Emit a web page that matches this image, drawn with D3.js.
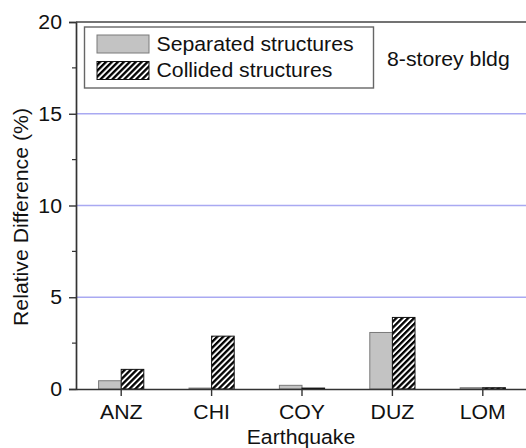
<!DOCTYPE html>
<html><head><meta charset="utf-8">
<script src="https://cdn.jsdelivr.net/npm/d3@7"></script>
<style>
html,body{margin:0;padding:0;background:#fff;}
svg{display:block;font-family:"Liberation Sans",Arial,sans-serif;}
</style>
</head><body>
<svg id="c" width="526" height="448"></svg>
<script>
const categories = ["ANZ", "CHI", "COY", "DUZ", "LOM"];
const separated = [0.45, 0.05, 0.2, 3.08, 0.07];
const collided = [1.07, 2.88, 0.05, 3.9, 0.07];
const yTicks = [0, 5, 10, 15, 20];
const gridValues = [5, 10, 15];
const legendLabels = ["Separated structures", "Collided structures"];
const noteText = "8-storey bldg";

const FS = 19.5, SX = 1.09, TXT = "#111";
const svg = d3.select("#c");
const L = 76, R = 528, T = 22, B = 389;
const x = d3.scaleBand().domain(categories).range([L, R]).padding(0);
const y = d3.scaleLinear().domain([0, 20]).range([B, T]);

const defs = svg.append("defs");
const P = 4.2;
const pat = defs.append("pattern").attr("id", "hatch").attr("patternUnits", "userSpaceOnUse")
  .attr("width", P).attr("height", P).attr("patternTransform", "rotate(45)");
pat.append("rect").attr("width", P).attr("height", P).attr("fill", "#fff");
pat.append("rect").attr("x", 0).attr("y", 0).attr("width", 2.3).attr("height", P).attr("fill", "#000");

function label(g, tx, ty, txt, anchor, rot) {
  return g.append("text")
    .attr("transform", `translate(${tx},${ty})` + (rot ? ` rotate(${rot})` : "") + ` scale(${SX},1)`)
    .attr("text-anchor", anchor || "start").attr("font-size", FS).attr("fill", TXT).text(txt);
}

// gridlines
svg.append("g").selectAll("line").data(gridValues).join("line")
  .attr("x1", L).attr("x2", R).attr("y1", d => y(d)).attr("y2", d => y(d))
  .attr("stroke", "#a9a9f2").attr("stroke-width", 1.3);

// bars
const bw = x.bandwidth() / 4;
svg.append("g").selectAll("rect").data(categories).join("rect")
  .attr("x", d => x(d) + x.bandwidth() / 2 - bw)
  .attr("y", (d, i) => y(separated[i]))
  .attr("width", bw)
  .attr("height", (d, i) => y(0) - y(separated[i]))
  .attr("fill", "#c3c3c3").attr("stroke", "#7a7a7a").attr("stroke-width", 1);
svg.append("g").selectAll("rect").data(categories).join("rect")
  .attr("x", d => x(d) + x.bandwidth() / 2)
  .attr("y", (d, i) => y(collided[i]))
  .attr("width", bw)
  .attr("height", (d, i) => y(0) - y(collided[i]))
  .attr("fill", "url(#hatch)").attr("stroke", "#111").attr("stroke-width", 1);

// y axis
const yAxis = svg.append("g").attr("transform", `translate(${L},0)`)
  .call(d3.axisLeft(y).tickValues(yTicks).tickSize(7).tickFormat(""));
yAxis.select(".domain").attr("stroke", "#333").attr("stroke-width", 1.7);
yAxis.selectAll(".tick line").attr("stroke", "#333").attr("stroke-width", 1.4);
yTicks.forEach(v => label(svg, 62, y(v) + 7, String(v), "end"));
// minor ticks
svg.append("g").selectAll("line").data([2.5, 7.5, 12.5, 17.5]).join("line")
  .attr("x1", L - 4).attr("x2", L).attr("y1", d => y(d)).attr("y2", d => y(d))
  .attr("stroke", "#333").attr("stroke-width", 1.2);

// x axis
const xAxis = svg.append("g").attr("transform", `translate(0,${B})`)
  .call(d3.axisBottom(x).tickSize(7).tickSizeOuter(0).tickFormat(""));
xAxis.select(".domain").attr("stroke", "#333").attr("stroke-width", 1.7);
xAxis.selectAll(".tick line").attr("stroke", "#333").attr("stroke-width", 1.4);
categories.forEach(c => label(svg, x(c) + x.bandwidth() / 2, 418.5, c, "middle"));

// top frame
svg.append("line").attr("x1", L).attr("x2", R).attr("y1", T).attr("y2", T)
  .attr("stroke", "#444").attr("stroke-width", 1.5);

// axis titles
label(svg, (L + R) / 2 - 1, 443.5, "Earthquake", "middle");
label(svg, 28, 217, "Relative Difference (%)", "middle", -90);

// legend
const lg = svg.append("g");
lg.append("rect").attr("x", 84.5).attr("y", 27).attr("width", 289).attr("height", 61)
  .attr("fill", "#fff").attr("stroke", "#666").attr("stroke-width", 1.4);
const fills = ["#c3c3c3", "url(#hatch)"];
const strokes = ["#7a7a7a", "#111"];
legendLabels.forEach((lab, i) => {
  lg.append("rect").attr("x", 97).attr("y", 35 + i * 26.5).attr("width", 52).attr("height", 18)
    .attr("fill", fills[i]).attr("stroke", strokes[i]).attr("stroke-width", 1);
  label(lg, 156.5, 50.5 + i * 26, lab);
});
label(svg, 387, 66, noteText);
</script>
</body></html>
